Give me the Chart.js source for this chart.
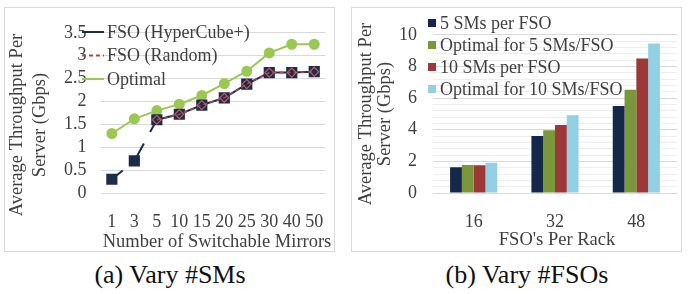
<!DOCTYPE html>
<html>
<head>
<meta charset="utf-8">
<script src="https://cdn.jsdelivr.net/npm/chart.js@4.4.0/dist/chart.umd.min.js"></script>
<style>
  body { margin: 0; background: #fff; width: 688px; height: 294px; position: relative; overflow: hidden; font-family: "Liberation Serif", "Times New Roman", serif; }
  .box { position: absolute; top: 7px; width: 331px; height: 245px; border: 1px solid #d9d9d9; box-sizing: border-box; }
  .box canvas { position: absolute; left: 0; top: 0; }
  .cap { position: absolute; top: 259px; width: 300px; text-align: center; font-size: 26px; color: #111; line-height: 32px; }
</style>
</head>
<body>
<div class="box" style="left:4px"><canvas id="chartSM" width="329" height="243"></canvas></div>
<div class="box" style="left:351px"><canvas id="chartFSO" width="329" height="243"></canvas></div>
<div class="cap" style="left:20px">(a) Vary #SMs</div>
<div class="cap" style="left:377px">(b) Vary #FSOs</div>
<script>
// (a) throughput vs number of switchable mirrors
const smLabels = ["1", "3", "5", "10", "15", "20", "25", "30", "40", "50"];
const hyperCube = [0.3, 0.7, 1.6, 1.72, 1.92, 2.08, 2.38, 2.63, 2.63, 2.65];
const randomFso = [null, null, 1.6, 1.72, 1.92, 2.08, 2.38, 2.63, 2.63, 2.65];
const optimalSM = [1.3, 1.62, 1.8, 1.94, 2.13, 2.39, 2.66, 3.06, 3.25, 3.25];

// (b) throughput vs FSOs per rack
const fsoLabels = ["16", "32", "48"];
const sm5 = [1.63, 3.61, 5.5];
const opt5 = [1.77, 3.96, 6.53];
const sm10 = [1.76, 4.3, 8.5];
const opt10 = [1.92, 4.92, 9.45];

const yTitle = ["Average Throughput Per", "Server (Gbps)"];

const SERIF = '"Liberation Serif", "Times New Roman", serif';
Chart.defaults.font.family = SERIF;
Chart.defaults.font.size = 18;
Chart.defaults.color = "#404040";
Chart.defaults.animation = false;

const navy = "#1c2c4c";
const redLine = "#b04446";
const green = "#9bc853";

// axis titles + legend drawn at fixed spots
const decor = {
  id: "decor",
  afterDraw(chart, args, o) {
    const ctx = chart.ctx;
    ctx.save();
    ctx.fillStyle = "#404040";
    ctx.font = "18.5px " + SERIF;
    ctx.textAlign = "center";
    ctx.textBaseline = "middle";
    o.yTitle.forEach((t, i) => {
      ctx.save();
      ctx.translate(o.yTitleX[i], o.yTitleY);
      ctx.rotate(-Math.PI / 2);
      ctx.fillText(t, 0, 0);
      ctx.restore();
    });
    ctx.fillText(o.xTitle, o.xTitleX, o.xTitleY);

    ctx.font = "18px " + SERIF;
    ctx.textAlign = "left";
    const lg = o.legend;
    lg.items.forEach((idx, r) => {
      const ds = chart.data.datasets[idx];
      const y = lg.y + r * lg.step;
      if (lg.kind === "box") {
        ctx.fillStyle = ds.backgroundColor;
        ctx.fillRect(lg.x - 4, y - 4, 8, 8);
      } else {
        ctx.strokeStyle = ds.borderColor;
        ctx.lineWidth = 2;
        ctx.setLineDash(ds.borderDash || []);
        ctx.beginPath();
        ctx.moveTo(lg.x - 11, y);
        ctx.lineTo(lg.x + 11, y);
        ctx.stroke();
        ctx.setLineDash([]);
        ctx.lineWidth = 1.5;
        ctx.fillStyle = ds.legendFill || ds.pointBackgroundColor;
        ctx.strokeStyle = ds.pointBorderColor;
        Chart.helpers.drawPoint(ctx, {pointStyle: ds.pointStyle, rotation: 0, borderWidth: 1.5},
          lg.x, y, ds.legendRadius);
      }
      ctx.fillStyle = "#404040";
      ctx.fillText(ds.label, lg.textX, y + 1);
    });
    ctx.restore();
  }
};

function fmt(v) {
  return String(Math.round(v * 10) / 10);
}

function drawCharts() {
  new Chart(document.getElementById("chartSM"), {
    type: "line",
    data: {
      labels: smLabels,
      datasets: [
        {
          label: "FSO (HyperCube+)",
          data: hyperCube,
          order: 2,
          borderColor: navy,
          borderWidth: 2,
          pointStyle: "rect",
          pointRadius: 6.5,
          pointBackgroundColor: navy,
          pointBorderColor: navy,
          legendRadius: 6,
          // only short stubs of the first two links show in the original
          segment: {
            borderDash: c => {
              if (c.p0DataIndex === 0) return [14, 400];
              if (c.p0DataIndex === 1) {
                const L = Math.hypot(c.p1.x - c.p0.x, c.p1.y - c.p0.y);
                return [20, L - 34, 14, 400];
              }
              return undefined;
            }
          }
        },
        {
          label: "FSO (Random)",
          data: randomFso,
          order: 1,
          borderColor: redLine,
          borderWidth: 1.5,
          borderDash: [4, 3],
          pointStyle: "rectRot",
          pointRadius: 4.5,
          pointBackgroundColor: "rgba(0,0,0,0)",
          pointBorderColor: "#c2595b",
          pointBorderWidth: 1.2,
          legendFill: "#fbe9e9",
          legendRadius: 4.5
        },
        {
          label: "Optimal",
          data: optimalSM,
          order: 3,
          borderColor: green,
          borderWidth: 2,
          pointStyle: "circle",
          pointRadius: 4.5,
          pointBackgroundColor: green,
          pointBorderColor: green,
          legendRadius: 4.5
        }
      ]
    },
    options: {
      responsive: false,
      layout: { padding: { top: 10, right: 4.6, left: 0, bottom: 0 } },
      plugins: {
        legend: { display: false },
        tooltip: { enabled: false },
        decor: {
          yTitle: yTitle, yTitleX: [12, 35], yTitleY: 117,
          xTitle: "Number of Switchable Mirrors", xTitleX: 212, xTitleY: 234,
          legend: { kind: "line", items: [0, 1, 2], x: 88, textX: 102, y: 24, step: 23.5 }
        }
      },
      scales: {
        x: {
          offset: true,
          grid: { display: false },
          border: { display: false },
          ticks: { padding: 10, maxRotation: 0, autoSkip: false },
          afterFit: s => { s.height = 58; }
        },
        y: {
          min: 0, max: 3.5,
          grid: { color: "#d9d9d9", drawTicks: false },
          border: { display: false },
          ticks: { stepSize: 0.5, autoSkip: false, padding: 14, callback: v => fmt(v) },
          afterFit: s => { s.width = 95.6; }
        }
      }
    },
    plugins: [decor]
  });

  new Chart(document.getElementById("chartFSO"), {
    type: "bar",
    data: {
      labels: fsoLabels,
      datasets: [
        { label: "5 SMs per FSO", data: sm5, backgroundColor: "#15284a" },
        { label: "Optimal for 5 SMs/FSO", data: opt5, backgroundColor: "#7a973c" },
        { label: "10 SMs per FSO", data: sm10, backgroundColor: "#9c3838" },
        { label: "Optimal for 10 SMs/FSO", data: opt10, backgroundColor: "#94d0e3" }
      ]
    },
    options: {
      responsive: false,
      layout: { padding: { top: 15, right: 4, left: 0, bottom: 0 } },
      datasets: { bar: { categoryPercentage: 0.58, barPercentage: 1.0 } },
      plugins: {
        legend: { display: false },
        tooltip: { enabled: false },
        decor: {
          yTitle: yTitle, yTitleX: [14, 33], yTitleY: 106,
          xTitle: "FSO's Per Rack", xTitleX: 205, xTitleY: 232,
          legend: { kind: "box", items: [0, 1, 2, 3], x: 80, textX: 88, y: 15, step: 22 }
        }
      },
      scales: {
        x: {
          grid: { display: false },
          border: { display: false },
          ticks: { padding: 10, maxRotation: 0 },
          afterFit: s => { s.height = 58; }
        },
        y: {
          min: 0, max: 10,
          grid: {
            drawTicks: false,
            color: c => (Math.abs(c.tick.value / 2 - Math.round(c.tick.value / 2)) < 1e-6 ? "#d9d9d9" : "#eeeeee")
          },
          border: { display: false },
          ticks: {
            stepSize: 0.4, maxTicksLimit: 100, autoSkip: false, padding: 16,
            callback: v => (Math.abs(v / 2 - Math.round(v / 2)) < 1e-6 ? String(Math.round(v)) : "")
          },
          afterFit: s => { s.width = 81; }
        }
      }
    },
    plugins: [decor]
  });
}

Promise.all([
  document.fonts.load("18px " + SERIF),
  document.fonts.load("26px " + SERIF)
]).then(drawCharts, drawCharts);
</script>
</body>
</html>
